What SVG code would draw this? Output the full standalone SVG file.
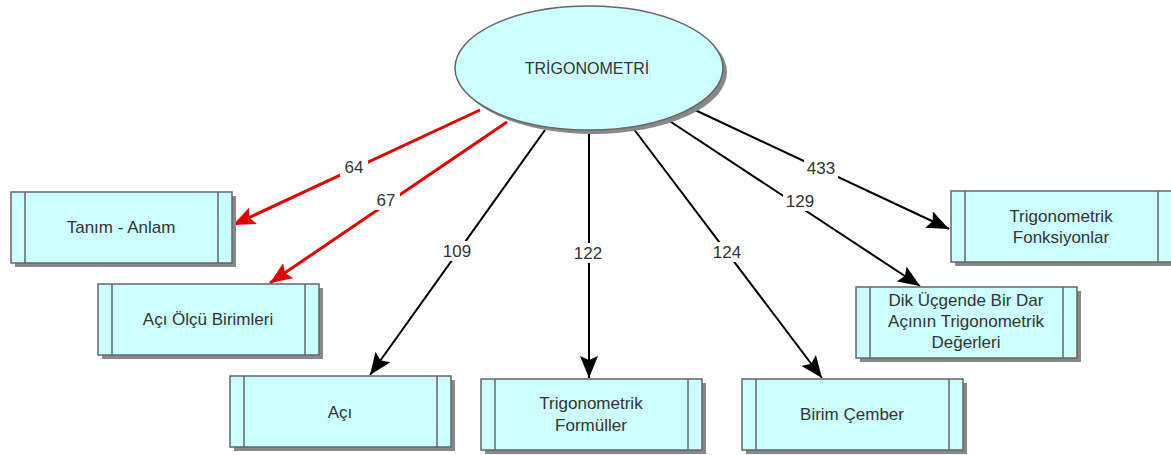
<svg xmlns="http://www.w3.org/2000/svg" width="1171" height="455" viewBox="0 0 1171 455">
<style>
.box{fill:#ccffff;stroke:#666;stroke-width:1.5}
.sh{fill:#888}
.in{stroke:#666;stroke-width:1.5}
.t{font-family:"Liberation Sans",Arial,sans-serif;font-size:17px;fill:#333;text-anchor:middle}
.lb{font-family:"Liberation Sans",Arial,sans-serif;font-size:17px;fill:#333;text-anchor:middle}
.lbg{fill:#fff}
.red{stroke:#e00000;stroke-width:3;fill:none}
.blk{stroke:#000;stroke-width:2;fill:none}
</style>
<defs>
<marker id="ar" markerUnits="userSpaceOnUse" markerWidth="24" markerHeight="18" refX="22" refY="9" orient="auto"><path d="M0,0 L22,9 L0,18 L4,9 Z" fill="#e00000"/></marker>
<marker id="ab" markerUnits="userSpaceOnUse" markerWidth="24" markerHeight="18" refX="22" refY="9" orient="auto"><path d="M0,0 L22,9 L0,18 L4,9 Z" fill="#000"/></marker>
</defs>
<g id="connectors">
<line class="red" x1="480" y1="110" x2="233" y2="225" marker-end="url(#ar)"/>
<line class="red" x1="507" y1="122" x2="270" y2="283" marker-end="url(#ar)"/>
<line class="blk" x1="545" y1="130" x2="370" y2="375" marker-end="url(#ab)"/>
<line class="blk" x1="589" y1="132" x2="589" y2="378" marker-end="url(#ab)"/>
<line class="blk" x1="633" y1="128" x2="822" y2="378" marker-end="url(#ab)"/>
<line class="blk" x1="668" y1="120" x2="920" y2="286" marker-end="url(#ab)"/>
<line class="blk" x1="695" y1="110" x2="949" y2="229" marker-end="url(#ab)"/>
<rect class="lbg" x="340" y="157" width="28" height="20"/><text class="lb" x="354" y="173">64</text>
<rect class="lbg" x="372" y="190" width="28" height="20"/><text class="lb" x="386" y="206">67</text>
<rect class="lbg" x="440" y="241" width="34" height="20"/><text class="lb" x="457" y="257">109</text>
<rect class="lbg" x="571" y="243" width="34" height="20"/><text class="lb" x="588" y="259">122</text>
<rect class="lbg" x="710" y="242" width="34" height="20"/><text class="lb" x="727" y="258">124</text>
<rect class="lbg" x="783" y="191" width="34" height="20"/><text class="lb" x="800" y="207">129</text>
<rect class="lbg" x="804" y="158" width="34" height="20"/><text class="lb" x="821" y="174">433</text>
</g>
<g id="root">
<ellipse class="sh" cx="593" cy="72" rx="134" ry="62"/>
<ellipse class="box" cx="589" cy="68" rx="134" ry="62"/>
<text class="t" x="587" y="74" style="font-size:16px">TRİGONOMETRİ</text>
</g>
<g id="n1">
<rect class="sh" x="15" y="196" width="221" height="71"/>
<rect class="box" x="11" y="192" width="221" height="71"/>
<line class="in" x1="25" y1="192" x2="25" y2="263"/><line class="in" x1="218" y1="192" x2="218" y2="263"/>
<text class="t" x="121" y="233">Tanım - Anlam</text>
</g>
<g id="n2">
<rect class="sh" x="102" y="288" width="221" height="71"/>
<rect class="box" x="98" y="284" width="221" height="71"/>
<line class="in" x1="112" y1="284" x2="112" y2="355"/><line class="in" x1="305" y1="284" x2="305" y2="355"/>
<text class="t" x="208" y="325">Açı Ölçü Birimleri</text>
</g>
<g id="n3">
<rect class="sh" x="234" y="380" width="221" height="71"/>
<rect class="box" x="230" y="376" width="221" height="71"/>
<line class="in" x1="244" y1="376" x2="244" y2="447"/><line class="in" x1="437" y1="376" x2="437" y2="447"/>
<text class="t" x="340" y="418">Açı</text>
</g>
<g id="n4">
<rect class="sh" x="485" y="383" width="221" height="71"/>
<rect class="box" x="481" y="379" width="221" height="71"/>
<line class="in" x1="495" y1="379" x2="495" y2="450"/><line class="in" x1="688" y1="379" x2="688" y2="450"/>
<text class="t" x="591" y="409">Trigonometrik</text>
<text class="t" x="591" y="431">Formüller</text>
</g>
<g id="n5">
<rect class="sh" x="746" y="383" width="221" height="71"/>
<rect class="box" x="742" y="379" width="221" height="71"/>
<line class="in" x1="756" y1="379" x2="756" y2="450"/><line class="in" x1="949" y1="379" x2="949" y2="450"/>
<text class="t" x="852" y="420">Birim Çember</text>
</g>
<g id="n6">
<rect class="sh" x="860" y="291" width="221" height="71"/>
<rect class="box" x="856" y="287" width="221" height="71"/>
<line class="in" x1="870" y1="287" x2="870" y2="358"/><line class="in" x1="1063" y1="287" x2="1063" y2="358"/>
<text class="t" x="966" y="306">Dik Üçgende Bir Dar</text>
<text class="t" x="966" y="327">Açının Trigonometrik</text>
<text class="t" x="966" y="348">Değerleri</text>
</g>
<g id="n7">
<rect class="sh" x="955" y="195" width="221" height="71"/>
<rect class="box" x="951" y="191" width="221" height="71"/>
<line class="in" x1="965" y1="191" x2="965" y2="262"/><line class="in" x1="1158" y1="191" x2="1158" y2="262"/>
<text class="t" x="1061" y="222">Trigonometrik</text>
<text class="t" x="1061" y="243">Fonksiyonlar</text>
</g>
</svg>
